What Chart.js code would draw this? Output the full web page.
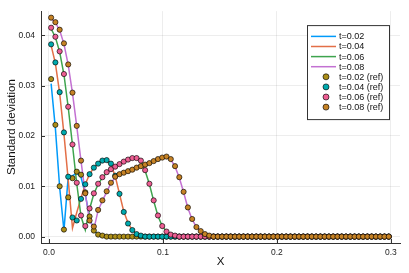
<!DOCTYPE html>
<html>
<head>
<meta charset="utf-8">
<script src="https://cdn.jsdelivr.net/npm/chart.js@4.4.1/dist/chart.umd.min.js"></script>
<style>
html, body { margin: 0; padding: 0; background: #fff; }
</style>
</head>
<body>
<canvas id="chart" width="409" height="273"></canvas>
<script>
// grid (cell centres)
const xs = [
  0.001875, 0.005625, 0.009375, 0.013125, 0.016875, 0.020625, 0.024375, 0.028125, 0.031875, 0.035625,
  0.039375, 0.043125, 0.046875, 0.050625, 0.054375, 0.058125, 0.061875, 0.065625, 0.069375, 0.073125,
  0.076875, 0.080625, 0.084375, 0.088125, 0.091875, 0.095625, 0.099375, 0.103125, 0.106875, 0.110625,
  0.114375, 0.118125, 0.121875, 0.125625, 0.129375, 0.133125, 0.136875, 0.140625, 0.144375, 0.148125,
  0.151875, 0.155625, 0.159375, 0.163125, 0.166875, 0.170625, 0.174375, 0.178125, 0.181875, 0.185625,
  0.189375, 0.193125, 0.196875, 0.200625, 0.204375, 0.208125, 0.211875, 0.215625, 0.219375, 0.223125,
  0.226875, 0.230625, 0.234375, 0.238125, 0.241875, 0.245625, 0.249375, 0.253125, 0.256875, 0.260625,
  0.264375, 0.268125, 0.271875, 0.275625, 0.279375, 0.283125, 0.286875, 0.290625, 0.294375, 0.298125
];

// numerical solution
const sim002 = [
  0.0304, 0.0215, 0.0098, 0.0012, 0.0119, 0.0121, 0.0126, 0.0118, 0.0084, 0.0038,
  0.0012, 0.0004, 0.0001, 0, 0, 0, 0, 0, 0, 0,
  0, 0, 0, 0, 0, 0, 0, 0, 0, 0,
  0, 0, 0, 0, 0, 0, 0, 0, 0, 0,
  0, 0, 0, 0, 0, 0, 0, 0, 0, 0,
  0, 0, 0, 0, 0, 0, 0, 0, 0, 0,
  0, 0, 0, 0, 0, 0, 0, 0, 0, 0,
  0, 0, 0, 0, 0, 0, 0, 0, 0, 0
];
const sim004 = [
  0.0380, 0.0344, 0.0285, 0.0204, 0.0113, 0.0017, 0.0048, 0.0077, 0.0104, 0.0124,
  0.0137, 0.0145, 0.0150, 0.0150, 0.0143, 0.0120, 0.0085, 0.0050, 0.0027, 0.0013,
  0.0005, 0.0002, 0, 0, 0, 0, 0, 0, 0, 0,
  0, 0, 0, 0, 0, 0, 0, 0, 0, 0,
  0, 0, 0, 0, 0, 0, 0, 0, 0, 0,
  0, 0, 0, 0, 0, 0, 0, 0, 0, 0,
  0, 0, 0, 0, 0, 0, 0, 0, 0, 0,
  0, 0, 0, 0, 0, 0, 0, 0, 0, 0
];
const sim006 = [
  0.0413, 0.0396, 0.0367, 0.0322, 0.0257, 0.0182, 0.0105, 0.0040, 0.0013, 0.0055,
  0.0085, 0.0104, 0.0117, 0.0127, 0.0134, 0.0139, 0.0144, 0.0149, 0.0153, 0.0155,
  0.0155, 0.0150, 0.0131, 0.0104, 0.0071, 0.0041, 0.0021, 0.0010, 0.0004, 0.0002,
  0, 0, 0, 0, 0, 0, 0, 0, 0, 0,
  0, 0, 0, 0, 0, 0, 0, 0, 0, 0,
  0, 0, 0, 0, 0, 0, 0, 0, 0, 0,
  0, 0, 0, 0, 0, 0, 0, 0, 0, 0,
  0, 0, 0, 0, 0, 0, 0, 0, 0, 0
];
const sim008 = [
  0.0434, 0.0425, 0.0410, 0.0383, 0.0341, 0.0285, 0.0219, 0.0150, 0.0085, 0.0033,
  0.0015, 0.0052, 0.0071, 0.0089, 0.0106, 0.0118, 0.0123, 0.0126, 0.0129, 0.0132,
  0.0136, 0.0139, 0.0142, 0.0145, 0.0149, 0.0153, 0.0156, 0.0158, 0.0153, 0.0139,
  0.0117, 0.0088, 0.0057, 0.0034, 0.0019, 0.0011, 0.0005, 0.0002, 0, 0,
  0, 0, 0, 0, 0, 0, 0, 0, 0, 0,
  0, 0, 0, 0, 0, 0, 0, 0, 0, 0,
  0, 0, 0, 0, 0, 0, 0, 0, 0, 0,
  0, 0, 0, 0, 0, 0, 0, 0, 0, 0
];

// reference solution
const ref002 = [
  0.0313, 0.0222, 0.0100, 0.0014, 0.0078, 0.0116, 0.0129, 0.0123, 0.0088, 0.0040,
  0.0012, 0.0004, 0.0002, 0, 0, 0, 0, 0, 0, 0,
  0, 0, 0, 0, 0, 0, 0, 0, 0, 0,
  0, 0, 0, 0, 0, 0, 0, 0, 0, 0,
  0, 0, 0, 0, 0, 0, 0, 0, 0, 0,
  0, 0, 0, 0, 0, 0, 0, 0, 0, 0,
  0, 0, 0, 0, 0, 0, 0, 0, 0, 0,
  0, 0, 0, 0, 0, 0, 0, 0, 0, 0
];
const ref004 = [
  0.0382, 0.0346, 0.0287, 0.0207, 0.0119, 0.0038, 0.0032, 0.0075, 0.0104, 0.0124,
  0.0137, 0.0145, 0.0151, 0.0152, 0.0145, 0.0121, 0.0085, 0.0049, 0.0026, 0.0013,
  0.0005, 0.0002, 0, 0, 0, 0, 0, 0, 0, 0,
  0, 0, 0, 0, 0, 0, 0, 0, 0, 0,
  0, 0, 0, 0, 0, 0, 0, 0, 0, 0,
  0, 0, 0, 0, 0, 0, 0, 0, 0, 0,
  0, 0, 0, 0, 0, 0, 0, 0, 0, 0,
  0, 0, 0, 0, 0, 0, 0, 0, 0, 0
];
const ref006 = [
  0.0415, 0.0397, 0.0368, 0.0323, 0.0258, 0.0183, 0.0107, 0.0042, 0.0021, 0.0056,
  0.0086, 0.0105, 0.0118, 0.0128, 0.0134, 0.0139, 0.0144, 0.0149, 0.0153, 0.0156,
  0.0156, 0.0151, 0.0132, 0.0105, 0.0072, 0.0042, 0.0021, 0.0010, 0.0004, 0.0002,
  0, 0, 0, 0, 0, 0, 0, 0, 0, 0,
  0, 0, 0, 0, 0, 0, 0, 0, 0, 0,
  0, 0, 0, 0, 0, 0, 0, 0, 0, 0,
  0, 0, 0, 0, 0, 0, 0, 0, 0, 0,
  0, 0, 0, 0, 0, 0, 0, 0, 0, 0
];
const ref008 = [
  0.0435, 0.0426, 0.0411, 0.0384, 0.0342, 0.0286, 0.0220, 0.0151, 0.0086, 0.0032,
  0.0020, 0.0053, 0.0072, 0.0090, 0.0107, 0.0119, 0.0124, 0.0127, 0.0130, 0.0133,
  0.0137, 0.0140, 0.0143, 0.0146, 0.0150, 0.0154, 0.0157, 0.0159, 0.0154, 0.0140,
  0.0118, 0.0089, 0.0058, 0.0035, 0.0019, 0.0011, 0.0005, 0.0002, 0, 0,
  0, 0, 0, 0, 0, 0, 0, 0, 0, 0,
  0, 0, 0, 0, 0, 0, 0, 0, 0, 0,
  0, 0, 0, 0, 0, 0, 0, 0, 0, 0,
  0, 0, 0, 0, 0, 0, 0, 0, 0, 0
];

const xTicks = [0, 0.1, 0.2, 0.3];
const yTicks = [0, 0.01, 0.02, 0.03, 0.04];

const lineLabels = ["t=0.02", "t=0.04", "t=0.06", "t=0.08"];
const refLabels = ["t=0.02 (ref)", "t=0.04 (ref)", "t=0.06 (ref)", "t=0.08 (ref)"];
const lineColors = ["#009afa", "#e36f47", "#3ea44e", "#c371d2"];
const refColors = ["#ac8e18", "#00aaae", "#ed5e93", "#c68225"];

const FONT = "'Liberation Sans', Arial, Helvetica, sans-serif";

function toPoints(vals) {
    return xs.map((x, i) => ({ x: x, y: vals[i] }));
}

const sims = [sim002, sim004, sim006, sim008];
const refs = [ref002, ref004, ref006, ref008];

let datasets = [];
sims.forEach((s, k) => {
    datasets.push({
        label: lineLabels[k],
        data: toPoints(s),
        showLine: true,
        borderColor: lineColors[k],
        borderWidth: 1.5,
        pointRadius: 0,
        tension: 0,
        order: 8 - k
    });
});
refs.forEach((r, k) => {
    datasets.push({
        label: refLabels[k],
        data: toPoints(r),
        showLine: false,
        backgroundColor: refColors[k],
        pointBackgroundColor: refColors[k],
        pointBorderColor: "rgba(0,0,0,0.8)",
        pointBorderWidth: 0.8,
        pointRadius: 2.6,
        order: 4 - k
    });
});

// little inward tick marks, like the original
const tickMarks = {
    id: "tickMarks",
    beforeDatasetsDraw(chart) {
        const { ctx, chartArea, scales } = chart;
        ctx.save();
        ctx.strokeStyle = "#333";
        ctx.lineWidth = 1;
        ctx.beginPath();
        yTicks.forEach(v => {
            const py = Math.round(scales.y.getPixelForValue(v)) + 0.5;
            ctx.moveTo(chartArea.left, py);
            ctx.lineTo(chartArea.left + 4, py);
        });
        xTicks.forEach(v => {
            const px = Math.round(scales.x.getPixelForValue(v)) + 0.5;
            ctx.moveTo(px, chartArea.bottom);
            ctx.lineTo(px, chartArea.bottom - 4);
        });
        ctx.stroke();
        ctx.restore();
    }
};

// boxed legend inside the plot, top right
const legendBox = {
    id: "legendBox",
    afterDraw(chart) {
        const { ctx, chartArea } = chart;
        const x0 = chartArea.right - 93;
        const y0 = chartArea.top + 14;
        const w = 82, h = 94;
        ctx.save();
        ctx.fillStyle = "#fff";
        ctx.fillRect(x0, y0, w, h);
        ctx.strokeStyle = "#333";
        ctx.lineWidth = 1;
        ctx.strokeRect(x0 + 0.5, y0 + 0.5, w, h);
        ctx.font = "9px " + FONT;
        ctx.textBaseline = "middle";
        ctx.textAlign = "left";
        chart.data.datasets.forEach((ds, i) => {
            const cy = y0 + 11.3 + i * 10.1;
            if (ds.showLine) {
                ctx.strokeStyle = ds.borderColor;
                ctx.lineWidth = 1.5;
                ctx.beginPath();
                ctx.moveTo(x0 + 4, cy);
                ctx.lineTo(x0 + 29, cy);
                ctx.stroke();
            } else {
                ctx.fillStyle = ds.pointBackgroundColor;
                ctx.strokeStyle = "rgba(0,0,0,0.8)";
                ctx.lineWidth = 0.8;
                ctx.beginPath();
                ctx.arc(x0 + 19, cy, 3, 0, Math.PI * 2);
                ctx.fill();
                ctx.stroke();
            }
            ctx.fillStyle = "#111";
            ctx.fillText(ds.label, x0 + 32, cy + 0.5);
        });
        ctx.restore();
    }
};

const ctx = document.getElementById("chart").getContext("2d");

const chart = new Chart(ctx, {
    type: "scatter",
    data: { datasets: datasets },
    plugins: [tickMarks, legendBox],
    options: {
        responsive: false,
        animation: false,
        devicePixelRatio: 1,
        layout: { padding: { left: 0, right: 9, top: 8, bottom: 0 } },
        plugins: {
            legend: { display: false },
            tooltip: { enabled: false }
        },
        scales: {
            x: {
                type: "linear",
                min: -0.007,
                max: 0.308,
                afterBuildTicks: s => { s.ticks = xTicks.map(v => ({ value: v })); },
                afterFit: s => { s.height = 30; },
                grid: { color: "rgba(0,0,0,0.07)", drawTicks: false },
                border: { color: "#333", width: 1 },
                ticks: {
                    font: { family: FONT, size: 8.5 },
                    color: "#222",
                    padding: 5,
                    maxRotation: 0,
                    callback: v => v.toFixed(1)
                },
                title: {
                    display: true,
                    text: "X",
                    font: { family: FONT, size: 11.5 },
                    color: "#111",
                    padding: { top: 0, bottom: 4 }
                }
            },
            y: {
                type: "linear",
                min: -0.00127,
                max: 0.0448,
                afterBuildTicks: s => { s.ticks = yTicks.map(v => ({ value: v })); },
                afterFit: s => { s.width = 41; },
                grid: { color: "rgba(0,0,0,0.07)", drawTicks: false },
                border: { color: "#333", width: 1 },
                ticks: {
                    font: { family: FONT, size: 8.5 },
                    color: "#222",
                    padding: 6,
                    callback: v => v.toFixed(2)
                },
                title: {
                    display: true,
                    text: "Standard deviation",
                    font: { family: FONT, size: 11.5 },
                    color: "#111",
                    padding: { top: 5, bottom: 0 }
                }
            }
        }
    }
});
</script>
</body>
</html>
